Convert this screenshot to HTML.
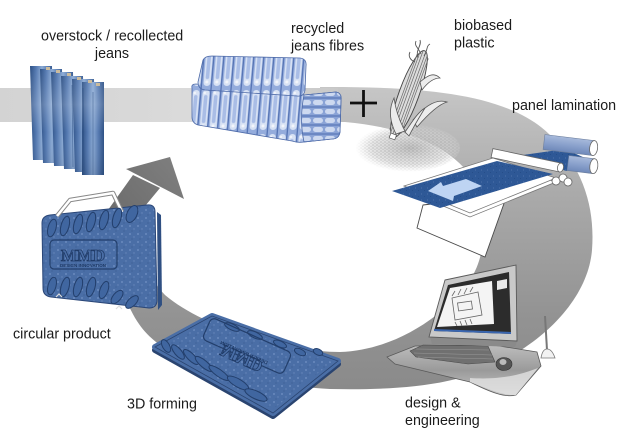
<!DOCTYPE html>
<html><head><meta charset="utf-8">
<style>
html,body{margin:0;padding:0;background:#fff;}
svg{display:block;}
text{font-family:"Liberation Sans",sans-serif;fill:#1b1b1b;}
</style></head><body>
<svg width="625" height="442" viewBox="0 0 625 442" xmlns="http://www.w3.org/2000/svg">
<defs>
 <linearGradient id="band" x1="0" y1="0" x2="340" y2="0" gradientUnits="userSpaceOnUse">
  <stop offset="0" stop-color="#d3d3d3"/>
  <stop offset="0.55" stop-color="#dadada"/>
  <stop offset="1" stop-color="#c8c8c8"/>
 </linearGradient>
 <linearGradient id="ring" x1="0" y1="88" x2="0" y2="390" gradientUnits="userSpaceOnUse">
  <stop offset="0" stop-color="#c6c6c6"/>
  <stop offset="0.35" stop-color="#aaaaaa"/>
  <stop offset="0.75" stop-color="#939393"/>
  <stop offset="1" stop-color="#8a8a8a"/>
 </linearGradient>
 <linearGradient id="arrowg" x1="110" y1="215" x2="175" y2="160" gradientUnits="userSpaceOnUse">
  <stop offset="0" stop-color="#6c6c6c"/>
  <stop offset="1" stop-color="#7e7e7e"/>
 </linearGradient>
 <linearGradient id="jg" x1="0" y1="0" x2="1" y2="0">
  <stop offset="0" stop-color="#2c4f83"/>
  <stop offset="0.25" stop-color="#5378b0"/>
  <stop offset="0.5" stop-color="#8aa9d3"/>
  <stop offset="0.75" stop-color="#5579b0"/>
  <stop offset="1" stop-color="#2d5084"/>
 </linearGradient>
 <linearGradient id="jv" x1="0" y1="66" x2="0" y2="176" gradientUnits="userSpaceOnUse">
  <stop offset="0" stop-color="#fff" stop-opacity="0"/>
  <stop offset="0.35" stop-color="#fff" stop-opacity="0.18"/>
  <stop offset="0.6" stop-color="#fff" stop-opacity="0"/>
  <stop offset="1" stop-color="#000" stop-opacity="0.1"/>
 </linearGradient>
 <clipPath id="jclip">
  <polygon points="30,66 52,66 54,160 33,160"/>
  <polygon points="40,69 62,69 64,163 43,163"/>
  <polygon points="51,72 73,72 75,166 54,166"/>
  <polygon points="61,76 83,76 85,169 64,169"/>
  <polygon points="72,79 94,79 96,172 75,172"/>
  <polygon points="82,82 104,82 104,175 82,175"/>
 </clipPath>
 <pattern id="denim" width="8" height="8" patternUnits="userSpaceOnUse">
  <rect width="8" height="8" fill="#4a6ea6"/>
  <circle cx="2" cy="2" r="0.9" fill="#7492c4"/>
  <circle cx="6" cy="5" r="0.7" fill="#6987bb"/>
  <circle cx="4" cy="7" r="0.6" fill="#3a5b90"/>
 </pattern>
 <pattern id="sheet" width="6" height="6" patternUnits="userSpaceOnUse">
  <rect width="6" height="6" fill="#2e5896"/>
  <circle cx="1.5" cy="2" r="0.6" fill="#4a70aa"/>
  <circle cx="4.5" cy="4.5" r="0.5" fill="#234a85"/>
 </pattern>
 <pattern id="bale" width="10" height="44" patternUnits="userSpaceOnUse" patternTransform="skewX(-5)">
  <rect width="10" height="44" fill="#94acdc"/>
  <rect x="0.8" y="2" width="7" height="40" rx="3.5" fill="#d8e2f4"/>
  <rect x="2.4" y="7" width="3.6" height="28" rx="1.8" fill="#a9bde6"/>
  <circle cx="4" cy="38" r="1.5" fill="#f2f5fb"/>
  <circle cx="3" cy="5" r="1.2" fill="#f2f5fb"/>
  <line x1="8.8" y1="0" x2="8.8" y2="44" stroke="#4f6eb0" stroke-width="1.2"/>
 </pattern>
 <pattern id="baleend" width="12" height="9" patternUnits="userSpaceOnUse">
  <rect width="12" height="9" fill="#8aa3d6"/>
  <rect x="1" y="1" width="10" height="5" rx="2.5" fill="#cdd9f0"/>
  <line x1="0" y1="8" x2="12" y2="8" stroke="#4f6eb0" stroke-width="1"/>
 </pattern>
 <pattern id="gran" width="4" height="3" patternUnits="userSpaceOnUse">
  <circle cx="1" cy="1" r="0.55" fill="#7a7a7a"/>
  <circle cx="3" cy="2.3" r="0.5" fill="#959595"/>
 </pattern>
 <radialGradient id="granbg" cx="0.55" cy="0.5" r="0.5">
  <stop offset="0" stop-color="#bcbcbc" stop-opacity="0.95"/>
  <stop offset="0.7" stop-color="#d4d4d4" stop-opacity="0.6"/>
  <stop offset="1" stop-color="#e8e8e8" stop-opacity="0"/>
 </radialGradient>
 <radialGradient id="granmask" cx="0.55" cy="0.5" r="0.5">
  <stop offset="0" stop-color="#fff" stop-opacity="1"/>
  <stop offset="0.75" stop-color="#fff" stop-opacity="0.7"/>
  <stop offset="1" stop-color="#fff" stop-opacity="0"/>
 </radialGradient>
 <mask id="gm" maskContentUnits="userSpaceOnUse">
  <ellipse cx="405" cy="148" rx="55" ry="24" fill="url(#granmask)"/>
 </mask>
 <linearGradient id="tray" x1="0" y1="345" x2="0" y2="396" gradientUnits="userSpaceOnUse">
  <stop offset="0" stop-color="#bdbdbd"/>
  <stop offset="0.5" stop-color="#9a9a9a"/>
  <stop offset="1" stop-color="#c8c8c8"/>
 </linearGradient>
 <linearGradient id="roll" x1="0" y1="-8" x2="0" y2="8" gradientUnits="userSpaceOnUse">
  <stop offset="0" stop-color="#a9bbdc"/>
  <stop offset="0.5" stop-color="#8aa1cc"/>
  <stop offset="1" stop-color="#6d87b8"/>
 </linearGradient>
</defs>

<!-- ring -->
<path d="M320,87 L330,87 C430,87 510,95 550,135 C585,170 595,210 592,250 C588,300 540,350 470,375 C430,388 380,390 330,389 C270,386 200,370 160,345 C140,330 120,310 105,212 L132,222 C140,255 150,280 165,295 C200,325 280,352 340,352 C400,350 450,310 470,280 C490,250 487,200 470,175 C450,148 410,128 345,122 L320,122 Z" fill="url(#ring)"/>
<rect x="0" y="88" width="338" height="34" fill="url(#band)"/>

<!-- arrow -->
<path d="M133,175 L160,188 L131,223 L108,210 Z" fill="url(#arrowg)"/>
<path d="M126,169 L170,157 L184,199 Z" fill="url(#arrowg)"/>

<!-- jeans -->
<g>
 <polygon points="30,66 52,66 54,160 33,160" fill="url(#jg)"/>
 <polygon points="40,69 62,69 64,163 43,163" fill="url(#jg)"/>
 <polygon points="51,72 73,72 75,166 54,166" fill="url(#jg)"/>
 <polygon points="61,76 83,76 85,169 64,169" fill="url(#jg)"/>
 <polygon points="72,79 94,79 96,172 75,172" fill="url(#jg)"/>
 <polygon points="82,82 104,82 104,175 82,175" fill="url(#jg)"/>
 <rect x="30" y="66" width="74" height="110" fill="url(#jv)" clip-path="url(#jclip)"/>
 <g fill="#cbbb9c">
  <rect x="46" y="67" width="4" height="3"/>
  <rect x="56" y="70" width="4" height="3"/>
  <rect x="67" y="73" width="4" height="3"/>
  <rect x="77" y="77" width="4" height="3"/>
  <rect x="88" y="80" width="4" height="3"/>
  <rect x="96" y="83" width="4" height="3"/>
 </g>
 <g stroke="#2c4f83" stroke-width="0.8" opacity="0.6">
  <line x1="93" y1="92" x2="93" y2="175"/>
  <line x1="83" y1="88" x2="84" y2="171"/>
  <line x1="72" y1="85" x2="73" y2="167"/>
 </g>
</g>

<!-- bales -->
<g stroke="#4d6aa8" stroke-width="0.8" stroke-linejoin="round">
 <path d="M192,88 Q191,84 196,84 L304,95 L336,92 Q342,93 341,100 L340,132 Q339,139 332,139 L304,142 Q298,143 292,141 L198,125 Q192,123 192,117 Z" fill="url(#bale)"/>
 <path d="M304,95 L336,92 Q342,93 341,100 L340,132 Q339,139 332,139 L304,142 Q299,120 304,95 Z" fill="url(#baleend)"/>
 <path d="M203,60 Q205,56 212,56 L300,58 Q307,59 306,66 L305,90 Q304,97 297,96 L205,90 Q198,89 198,82 Z" fill="url(#bale)"/>
</g>

<!-- plus -->
<g stroke="#111" stroke-width="2.8">
 <line x1="350" y1="103" x2="377" y2="103"/>
 <line x1="363.5" y1="90" x2="363.5" y2="117"/>
</g>

<!-- granules -->
<ellipse cx="405" cy="148" rx="55" ry="24" fill="url(#granbg)"/>
<rect x="345" y="120" width="120" height="55" fill="url(#gran)" mask="url(#gm)"/>

<!-- corn -->
<g transform="translate(409,94) rotate(-70)">
 <ellipse cx="0" cy="0" rx="46" ry="10" fill="#dcdcdc" stroke="#444" stroke-width="0.9"/>
 <g stroke="#6a6a6a" stroke-width="0.7">
  <line x1="-40" y1="-6" x2="40" y2="-6"/>
  <line x1="-43" y1="-4" x2="43" y2="-4"/>
  <line x1="-45" y1="-1.5" x2="45" y2="-1.5"/>
  <line x1="-45" y1="1.5" x2="45" y2="1.5"/>
  <line x1="-43" y1="4" x2="43" y2="4"/>
  <line x1="-40" y1="6" x2="40" y2="6"/>
 </g>
</g>
<g fill="#ececec" stroke="#555" stroke-width="0.8">
 <path d="M413,120 C423,108 435,98 447,102 C440,104 430,112 417,127 Z"/>
 <path d="M420,82 C428,75 434,72 440,78 C434,78 428,82 422,90 Z"/>
 <path d="M396,134 C389,120 389,108 394,98 C396,112 400,122 405,131 Z"/>
 <path d="M405,132 C412,122 418,112 425,108 C420,116 414,126 409,136 Z"/>
</g>
<path d="M418,58 C415,50 422,46 420,40 M424,56 C428,50 426,46 430,44 M415,62 C410,60 408,56 410,52 M421,54 C418,47 414,46 416,41" stroke="#555" stroke-width="0.9" fill="none"/>
<rect x="390" y="134" width="6" height="5" fill="#fff" stroke="#555" stroke-width="0.7" transform="rotate(20 393 136)"/>

<!-- lamination -->
<polygon points="423,205 507,195 485,257 417,228" fill="#fff" stroke="#4a4a4a" stroke-width="0.9"/>
<polygon points="404,190 493,162 556,182 470,217" fill="#fff" stroke="#777" stroke-width="0.8"/>
<polygon points="404,186 493,158 556,178 470,213" fill="#fff" stroke="#777" stroke-width="0.8"/>
<polygon points="392,191 497,161 553,174 440,208" fill="url(#sheet)"/>
<polygon points="428,191 441,182 443,186 466,179 482,186 454,196 453,201" fill="#bed4f3"/>
<polygon points="523,155 565,149 594,162 566,171" fill="url(#sheet)"/>
<g transform="translate(544,142) rotate(7)">
 <rect x="0" y="-7.5" width="50" height="15" fill="url(#roll)" stroke="#6d7f9e" stroke-width="0.6"/>
 <ellipse cx="50" cy="0" rx="4" ry="7.5" fill="#fff" stroke="#666" stroke-width="0.8"/>
</g>
<g transform="translate(568,163) rotate(7)">
 <rect x="0" y="-7.5" width="26" height="15" fill="url(#roll)" stroke="#6d7f9e" stroke-width="0.6"/>
 <ellipse cx="26" cy="0" rx="4" ry="7.5" fill="#fff" stroke="#666" stroke-width="0.8"/>
</g>
<g fill="#fff" stroke="#666" stroke-width="0.8">
 <circle cx="556" cy="181" r="4"/>
 <circle cx="563" cy="178" r="4"/>
 <circle cx="568" cy="182" r="4"/>
</g>
<g transform="translate(492,153) rotate(12)">
 <rect x="0" y="-4.5" width="70" height="9" fill="#fff" stroke="#666" stroke-width="0.8"/>
 <ellipse cx="70" cy="0" rx="3" ry="4.5" fill="#fff" stroke="#666" stroke-width="0.8"/>
</g>

<!-- computer -->
<path d="M387,357 L415,346 L493,345 L537,352 L541,366 L516,395 C505,398 490,392 470,382 L395,364 Z" fill="url(#tray)" stroke="#5a5a5a" stroke-width="0.8"/>
<path d="M470,382 C490,390 505,396 516,395 L538,368 C520,375 500,380 470,378 Z" fill="#e2e2e2" opacity="0.8"/>
<polygon points="410,351 423,345 488,346 495,362 468,364 416,357" fill="#707070" stroke="#4a4a4a" stroke-width="0.6"/>
<g stroke="#9a9a9a" stroke-width="0.5">
 <line x1="416" y1="349" x2="489" y2="350"/>
 <line x1="414" y1="353" x2="492" y2="355"/>
 <line x1="418" y1="357" x2="493" y2="359"/>
</g>
<ellipse cx="504" cy="364" rx="8" ry="6.5" fill="#555" stroke="#333" stroke-width="0.6"/>
<ellipse cx="503" cy="362" rx="3.5" ry="3" fill="#bbb"/>
<polygon points="430,337 517,341 515,347 432,344" fill="#8a8a8a"/>
<polygon points="445,280 516,265 517,341 429,337" fill="#c9c9c9" stroke="#5a5a5a" stroke-width="0.9"/>
<polygon points="448,285 509,272 511,334 434,331" fill="#2c2c2c"/>
<polygon points="450,288 492,281 494,324 437,327" fill="#f4f4f4"/>
<polygon points="434,329 511,332 511,334 434,331" fill="#3a66b0"/>
<polygon points="497,281 507,279 507,288 497,290" fill="#e8e8e8"/>
<g fill="none" stroke="#666" stroke-width="0.8">
 <path d="M452,298 L478,292 L482,315 L455,320 Z"/>
 <rect x="458" y="302" width="14" height="8" transform="rotate(-8 465 306)"/>
 <path d="M452,296 l3,-5 m3,4 l3,-6 m3,5 l3,-6 m3,4 l3,-5"/>
 <path d="M455,322 l2,4 m3,-5 l2,5 m3,-6 l2,5 m3,-6 l2,5"/>
</g>
<line x1="545" y1="316" x2="547" y2="350" stroke="#777" stroke-width="2"/>
<path d="M541,358 C542,352 544,349 547,349 C550,349 553,352 555,358 Z" fill="#f2f2f2" stroke="#777" stroke-width="0.8"/>

<!-- circular product -->
<path d="M157,212 L161,215 L162,305 L158,310 Z" fill="#2f4f82"/>
<path d="M50,215 L147,205 Q155,204 155,212 L157,300 Q157,308 149,308 L51,297 Q43,296 43,288 L42,223 Q42,216 50,215 Z" fill="url(#denim)" stroke="#2a4677" stroke-width="1"/>
<polyline points="57,216 70,200 113,193 122,212" fill="none" stroke="#888" stroke-width="4.5" stroke-linejoin="round"/>
<polyline points="57,216 70,200 113,193 122,212" fill="none" stroke="#fff" stroke-width="2.5" stroke-linejoin="round"/>
<g fill="#4066a0" stroke="#233f6c" stroke-width="1">
 <ellipse cx="52" cy="228" rx="4" ry="9" transform="rotate(15 52 228)"/>
 <ellipse cx="65" cy="226" rx="4" ry="10" transform="rotate(15 65 226)"/>
 <ellipse cx="78" cy="224" rx="4" ry="10" transform="rotate(15 78 224)"/>
 <ellipse cx="91" cy="222" rx="4" ry="10" transform="rotate(15 91 222)"/>
 <ellipse cx="104" cy="220" rx="4" ry="10" transform="rotate(15 104 220)"/>
 <ellipse cx="117" cy="218" rx="4" ry="10" transform="rotate(15 117 218)"/>
 <ellipse cx="132" cy="214" rx="5" ry="9" transform="rotate(25 132 214)"/>
 <ellipse cx="52" cy="286" rx="4" ry="9" transform="rotate(15 52 286)"/>
 <ellipse cx="65" cy="287" rx="4" ry="10" transform="rotate(15 65 287)"/>
 <ellipse cx="78" cy="287" rx="4" ry="10" transform="rotate(15 78 287)"/>
 <ellipse cx="91" cy="287" rx="4" ry="10" transform="rotate(15 91 287)"/>
 <ellipse cx="104" cy="290" rx="4" ry="9" transform="rotate(20 104 290)"/>
 <ellipse cx="117" cy="297" rx="4" ry="8" transform="rotate(40 117 297)"/>
 <ellipse cx="132" cy="302" rx="4" ry="8" transform="rotate(45 132 302)"/>
</g>
<rect x="50" y="240" width="67" height="29" rx="4" fill="none" stroke="#233f6c" stroke-width="1.2"/>
<text x="83" y="261" text-anchor="middle" font-size="17" font-weight="bold" stroke="#1f3a66" stroke-width="0.8" style="font-family:'Liberation Serif',serif;fill:#4a6ea6">MMD</text>
<text x="83" y="267" text-anchor="middle" font-size="4.5" font-weight="bold" style="fill:#1f3a66">DESIGN INNOVATION</text>
<path d="M56,297 l3,-3 l3,3 M116,309 l3,-3 l3,3" stroke="#ddd" stroke-width="1.2" fill="none"/>

<!-- 3D forming panel -->
<polygon points="155,350 212,319 338,364 273,416" fill="#2a4470" stroke="#2a4470" stroke-width="6" stroke-linejoin="round"/>
<polygon points="155,347 212,316 338,361 273,413" fill="url(#denim)" stroke="#4a6ea6" stroke-width="6" stroke-linejoin="round"/>
<polygon points="155,347 212,316 338,361 273,413" fill="none" stroke="#2a4470" stroke-width="0.8"/>
<g fill="#4066a0" stroke="#233f6c" stroke-width="1">
 <ellipse cx="166" cy="346" rx="3.5" ry="7" transform="rotate(-30 166 346)"/>
 <ellipse cx="178" cy="352" rx="3.5" ry="9" transform="rotate(-40 178 352)"/>
 <ellipse cx="191" cy="357" rx="3.5" ry="10" transform="rotate(-45 191 357)"/>
 <ellipse cx="204" cy="364" rx="3.5" ry="11" transform="rotate(-50 204 364)"/>
 <ellipse cx="219" cy="373" rx="3.5" ry="12" transform="rotate(-55 219 373)"/>
 <ellipse cx="238" cy="383" rx="4" ry="12" transform="rotate(-60 238 383)"/>
 <ellipse cx="256" cy="395" rx="4" ry="12" transform="rotate(-65 256 395)"/>
 <ellipse cx="232" cy="327" rx="3" ry="8" transform="rotate(-65 232 327)"/>
 <ellipse cx="255" cy="335" rx="3" ry="8" transform="rotate(-65 255 335)"/>
 <ellipse cx="280" cy="344" rx="3" ry="7" transform="rotate(-65 280 344)"/>
 <ellipse cx="300" cy="352" rx="3" ry="6" transform="rotate(-65 300 352)"/>
 <ellipse cx="318" cy="352" rx="3" ry="5" transform="rotate(-65 318 352)"/>
</g>
<g transform="translate(247,346) rotate(24)">
 <rect x="-44" y="-12" width="88" height="24" rx="5" fill="none" stroke="#233f6c" stroke-width="1.2"/>
 <text x="0" y="-8" text-anchor="middle" font-size="17" font-weight="bold" transform="scale(1,-1)" style="font-family:'Liberation Serif',serif;fill:#4a6ea6" stroke="#1f3a66" stroke-width="0.8">MMD</text>
 <text x="0" y="9" text-anchor="middle" font-size="5" font-weight="bold" transform="scale(-1,1)" style="fill:#1f3a66">DESIGN INNOVATION</text>
</g>

<!-- labels -->
<g font-size="14.3">
 <text x="41" y="40.5">overstock / recollected</text>
 <text x="112" y="58" text-anchor="middle">jeans</text>
 <text x="291" y="33">recycled</text>
 <text x="291" y="50.5">jeans fibres</text>
 <text x="454" y="30">biobased</text>
 <text x="454" y="47.5">plastic</text>
 <text x="512" y="110">panel lamination</text>
 <text x="13" y="338.5">circular product</text>
 <text x="127" y="408.5">3D forming</text>
 <text x="405" y="407.5">design &amp;</text>
 <text x="405" y="425">engineering</text>
</g>
</svg>
</body></html>
